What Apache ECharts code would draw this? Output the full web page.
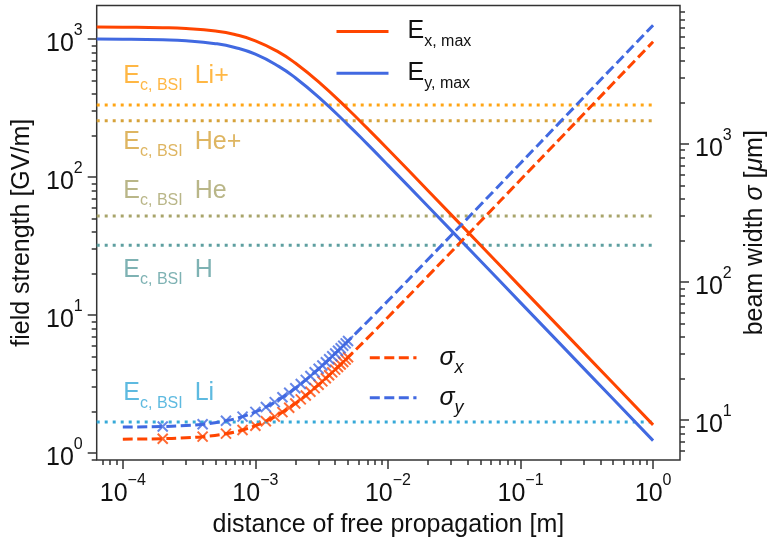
<!DOCTYPE html>
<html><head><meta charset="utf-8">
<script src="https://cdn.jsdelivr.net/npm/echarts@6/dist/echarts.min.js"></script>
<style>html,body{margin:0;padding:0;background:#fff}#c{width:776px;height:543px}</style>
</head><body><div id="c"></div>
<script>
// ---- axis ranges (log10 extents) ----
const X_MIN = Math.pow(10, -4.197), X_MAX = Math.pow(10, 0.203);
const YL_MIN = Math.pow(10, -0.0507), YL_MAX = Math.pow(10, 3.243);
const YR_MIN = Math.pow(10, 0.710), YR_MAX = Math.pow(10, 4.003);

// ---- tick labels ----
const xMajorTicks = [1e-4, 1e-3, 1e-2, 1e-1, 1];
const yLeftMajorTicks = [1, 10, 100, 1000];
const yRightMajorTicks = [10, 100, 1000];

// ---- field strength curves (GV/m) ----
const distE = [6.35e-5, 1e-4, 2e-4, 3e-4, 5e-4, 7e-4, 1e-3, 1.5e-3, 2e-3, 3e-3, 5e-3, 7e-3, 1e-2, 2e-2, 5e-2, 0.1, 0.2, 0.5, 1];
const ExMax = [1221, 1218, 1208, 1191, 1142, 1078, 971, 804, 670, 489, 310, 225, 159, 79.9, 32.0, 16.0, 8.0, 3.2, 1.6];
const EyMax = [999, 997, 987, 972, 926, 869, 776, 634, 524, 379, 239, 173, 122, 61.4, 24.6, 12.3, 6.15, 2.46, 1.23];

// ---- beam width curves (um) ----
const distS = [1e-4, 2e-4, 3e-4, 4e-4, 6e-4, 8e-4, 1e-3, 1.2e-3, 1.5e-3, 2e-3, 2.5e-3, 3e-3, 4e-3, 5e-3, 7e-3, 1e-2, 2e-2, 5e-2, 0.1, 0.2, 0.5, 1];
const sigmaX = [7.26, 7.32, 7.43, 7.57, 7.96, 8.47, 9.09, 9.80, 10.98, 13.17, 15.54, 18.02, 23.16, 28.44, 39.18, 55.47, 110.2, 275.1, 550, 1100, 2750, 5500];
const sigmaY = [8.88, 8.97, 9.11, 9.31, 9.86, 10.58, 11.44, 12.41, 14.02, 16.99, 20.17, 23.48, 30.32, 37.31, 51.52, 73.04, 145.3, 362.6, 725, 1450, 3625, 7250];

// ---- simulated beam width points (x markers) ----
const distM = [2e-4, 4e-4, 6e-4, 8e-4, 1.0e-3, 1.2e-3, 1.4e-3, 1.6e-3, 1.8e-3, 2.0e-3, 2.2e-3, 2.4e-3, 2.6e-3, 2.8e-3, 3.0e-3, 3.2e-3, 3.4e-3, 3.6e-3, 3.8e-3, 4.0e-3, 4.2e-3, 4.4e-3, 4.6e-3, 4.8e-3, 5.0e-3];
const sigmaXM = [7.32, 7.57, 7.96, 8.47, 9.09, 9.80, 10.57, 11.40, 12.26, 13.17, 14.10, 15.06, 16.03, 17.02, 18.02, 19.03, 20.05, 21.08, 22.12, 23.16, 24.21, 25.26, 26.32, 27.37, 28.44];
const sigmaYM = [8.97, 9.31, 9.86, 10.58, 11.44, 12.41, 13.47, 14.59, 15.77, 16.99, 18.24, 19.52, 20.82, 22.15, 23.48, 24.83, 26.19, 27.56, 28.94, 30.32, 31.71, 33.10, 34.50, 35.91, 37.31];

// ---- barrier suppression thresholds (GV/m) ----
const bsiSpecies = ['Li+', 'He+', 'He', 'H', 'Li'];
const bsiField = [333, 256, 52.1, 32.0, 1.68];
const bsiLineEnd = [X_MIN, 1];
const bsiTextAnchor = [541, 180, 79.2, 21.2, 2.71];
const bsiColors = ['#FFA515', '#D6A23A', '#A8A46A', '#5E9FA0', '#36A9D8'];

const RED = '#FF4500', BLUE = '#4169E1';
const FONT = '"Liberation Sans", Arial, Helvetica, sans-serif';
const INK = '#111';
const AX = {color: '#333', width: 1.5};

function minorTicks(lo, hi) {
  const out = [];
  for (let e = -6; e <= 5; e++) for (let k = 2; k <= 9; k++) {
    const v = k * Math.pow(10, e);
    if (v >= lo && v <= hi) out.push(v);
  }
  return out;
}
function powLabel(v) {
  const e = Math.round(Math.log10(v));
  return '{b|10}{s|' + (e < 0 ? '\u2212' + (-e) : String(e)) + '}';
}
const supRich = {
  b: {fontSize: 25, lineHeight: 43, fontFamily: FONT, color: INK},
  s: {fontSize: 16, lineHeight: 16, verticalAlign: 'top', fontFamily: FONT, color: INK}
};
function logAxisPair(pos, min, max, major, labelOpts, extra) {
  return [
    Object.assign({
      type: 'log', logBase: 10, min: min, max: max, position: pos,
      axisLine: {show: false},
      axisTick: {show: true, customValues: major, length: 9, lineStyle: AX},
      axisLabel: Object.assign({show: true, customValues: major, formatter: powLabel, rich: supRich}, labelOpts),
      splitLine: {show: false}
    }, extra),
    {
      type: 'log', logBase: 10, min: min, max: max, position: pos,
      axisLine: {show: false},
      axisTick: {show: true, customValues: minorTicks(min, max), length: 5, lineStyle: AX},
      axisLabel: {show: false}, splitLine: {show: false}
    }
  ];
}

const nameStyle = {fontSize: 25, fontFamily: FONT, color: INK};
const xAxes = logAxisPair('bottom', X_MIN, X_MAX, xMajorTicks, {margin: 12.7}, {
  name: 'distance of free propagation [m]', nameLocation: 'middle', nameGap: 53, nameTextStyle: nameStyle
});
const yLeft = logAxisPair('left', YL_MIN, YL_MAX, yLeftMajorTicks, {margin: 14, padding: [10, 0, 0, 0]}, {
  name: 'field strength [GV/m]', nameLocation: 'middle', nameGap: 62, nameTextStyle: nameStyle
});
const yRight = logAxisPair('right', YR_MIN, YR_MAX, yRightMajorTicks, {margin: 15, padding: [10, 0, 0, 0]}, {
  name: 'beam width {i|σ} [{i|μ}m]', nameLocation: 'middle', nameGap: 63,
  nameTextStyle: Object.assign({}, nameStyle, {rich: {i: {fontSize: 25, fontFamily: FONT, fontStyle: 'italic', color: INK}}})
});

const pairs = (xs, ys) => xs.map((x, i) => [x, ys[i]]);

const series = [];
bsiSpecies.forEach((sp, i) => {
  series.push({
    name: 'bsi ' + sp, type: 'line', xAxisIndex: 0, yAxisIndex: 0, symbol: 'none', silent: true,
    data: bsiLineEnd.map(x => [x, bsiField[i]]),
    lineStyle: {color: bsiColors[i], width: 3, type: [3, 5], cap: 'butt'}
  });
});
series.push({
  name: 'bsi labels', type: 'scatter', xAxisIndex: 0, yAxisIndex: 0, symbolSize: 1, silent: true,
  itemStyle: {color: 'rgba(0,0,0,0)'},
  data: bsiSpecies.map((sp, i) => ({value: [1e-4, bsiTextAnchor[i]], label: {color: bsiColors[i]}})),
  label: {
    show: true, position: 'right', distance: 0,
    formatter: p => '{e|E}{s|c, BSI}{b|' + bsiSpecies[p.dataIndex] + '}',
    rich: {
      e: {fontSize: 25, lineHeight: 36, fontFamily: FONT},
      s: {fontSize: 16, lineHeight: 16, verticalAlign: 'bottom', fontFamily: FONT},
      b: {fontSize: 25, lineHeight: 36, fontFamily: FONT, padding: [0, 0, 0, 12]}
    }
  }
});
series.push({name: 'Ex', type: 'line', xAxisIndex: 0, yAxisIndex: 0, symbol: 'none', smooth: true,
  data: pairs(distE, ExMax), lineStyle: {color: RED, width: 3}, itemStyle: {color: RED}});
series.push({name: 'Ey', type: 'line', xAxisIndex: 0, yAxisIndex: 0, symbol: 'none', smooth: true,
  data: pairs(distE, EyMax), lineStyle: {color: BLUE, width: 3}, itemStyle: {color: BLUE}});
series.push({name: 'sx', type: 'line', xAxisIndex: 0, yAxisIndex: 2, symbol: 'none', smooth: true,
  data: pairs(distS, sigmaX), lineStyle: {color: RED, width: 3, type: [10, 4.5]}, itemStyle: {color: RED}});
series.push({name: 'sy', type: 'line', xAxisIndex: 0, yAxisIndex: 2, symbol: 'none', smooth: true,
  data: pairs(distS, sigmaY), lineStyle: {color: BLUE, width: 3, type: [10, 4.5]}, itemStyle: {color: BLUE}});
const XMARK = 'path://M0,0L10,10M10,0L0,10';
series.push({name: 'sx pts', type: 'scatter', xAxisIndex: 0, yAxisIndex: 2, symbol: XMARK, symbolSize: 10, silent: true,
  data: pairs(distM, sigmaXM), itemStyle: {color: RED, borderColor: RED, borderWidth: 2}});
series.push({name: 'sy pts', type: 'scatter', xAxisIndex: 0, yAxisIndex: 2, symbol: XMARK, symbolSize: 10, silent: true,
  data: pairs(distM, sigmaYM), itemStyle: {color: BLUE, borderColor: BLUE, borderWidth: 2}});

const legendText = {Ex: '{e|E}{s|x, max}', Ey: '{e|E}{s|y, max}', sx: '{g|σ}{t|x}', sy: '{g|σ}{t|y}'};
const richE = {
  e: {fontSize: 25, lineHeight: 36, fontFamily: FONT, color: INK},
  s: {fontSize: 16, lineHeight: 16, verticalAlign: 'bottom', fontFamily: FONT, color: INK}
};
const richS = {
  g: {fontSize: 25, lineHeight: 39, fontFamily: FONT, fontStyle: 'italic', color: INK},
  t: {fontSize: 18, lineHeight: 17, verticalAlign: 'bottom', fontFamily: FONT, fontStyle: 'italic', color: INK}
};
function legendItem(name, left, top, width, textPad, rich) {
  return {data: [name], orient: 'vertical', left: left, top: top, padding: 0,
    itemWidth: width, itemHeight: 0.1, selectedMode: false,
    lineStyle: {width: 3}, itemStyle: {opacity: 0},
    formatter: n => legendText[n],
    textStyle: {padding: [0, 0, 0, textPad], color: INK, rich: rich}};
}

const chart = echarts.init(document.getElementById('c'), null, {renderer: 'canvas'});
chart.setOption({
  animation: false,
  backgroundColor: '#fff',
  grid: {left: 96.7, right: 85.3, top: 5.5, bottom: 83, show: true, borderColor: '#333', borderWidth: 1.5, backgroundColor: 'transparent'},
  xAxis: xAxes,
  yAxis: yLeft.concat(yRight),
  legend: [
    legendItem('Ex', 335, 19, 52, 14, richE),
    legendItem('Ey', 335, 60.7, 52, 14, richE),
    legendItem('sx', 368.3, 345.3, 46.7, 18, richS),
    legendItem('sy', 368.3, 385.3, 46.7, 18, richS)
  ],
  series: series
});
</script></body></html>
